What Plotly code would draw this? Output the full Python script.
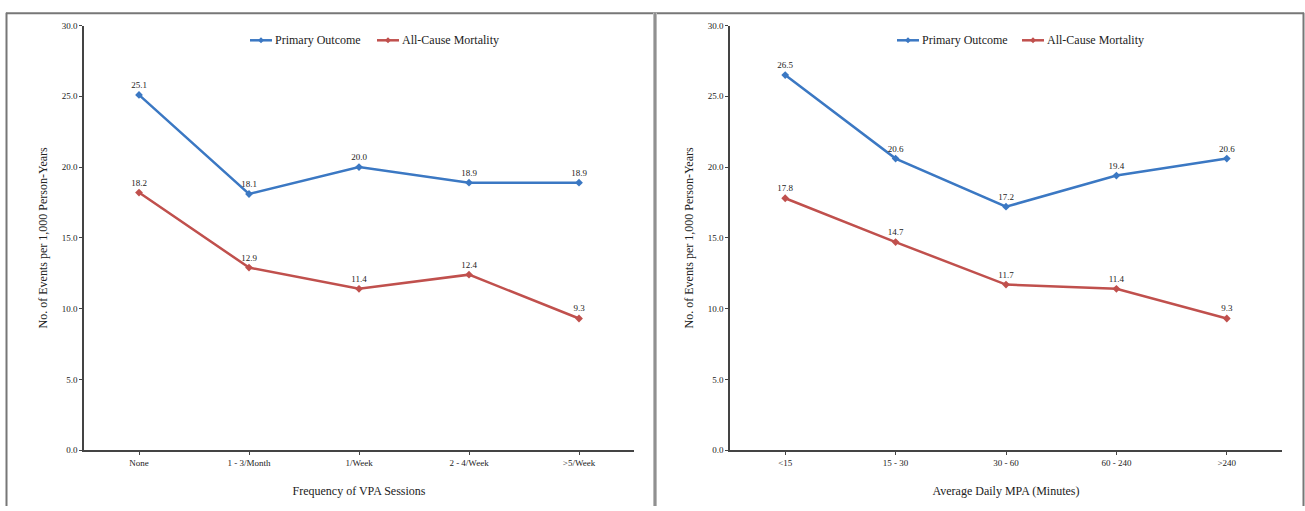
import plotly.graph_objects as go

vpa_categories = ["None", "1 - 3/Month", "1/Week", "2 - 4/Week", ">5/Week"]
vpa_primary = [25.1, 18.1, 20.0, 18.9, 18.9]
vpa_mortality = [18.2, 12.9, 11.4, 12.4, 9.3]

mpa_categories = ["<15", "15 - 30", "30 - 60", "60 - 240", ">240"]
mpa_primary = [26.5, 20.6, 17.2, 19.4, 20.6]
mpa_mortality = [17.8, 14.7, 11.7, 11.4, 9.3]

y_ticks = [0, 5, 10, 15, 20, 25, 30]

BLUE = "#3b78c3"
RED = "#c0504d"
FONT = "Liberation Serif"
W, H = 1305, 511

fig = go.Figure()

def add_series(x, y, name, color, xa, ya):
    fig.add_trace(go.Scatter(
        x=x, y=y, name=name, mode="lines+markers+text",
        line=dict(color=color, width=2.5),
        marker=dict(symbol="diamond", size=6, color=color),
        text=[f"{v:.1f}" for v in y], textposition="top center",
        textfont=dict(family=FONT, size=9, color="#222"),
        xaxis=xa, yaxis=ya, showlegend=False, cliponaxis=False,
    ))

add_series(vpa_categories, vpa_primary, "Primary Outcome", BLUE, "x", "y")
add_series(vpa_categories, vpa_mortality, "All-Cause Mortality", RED, "x", "y")
add_series(mpa_categories, mpa_primary, "Primary Outcome", BLUE, "x2", "y2")
add_series(mpa_categories, mpa_mortality, "All-Cause Mortality", RED, "x2", "y2")

y_bottom = 1 - 454 / H
y_top = 1 - 21 / H

axis_common = dict(
    showline=True, linecolor="#444", linewidth=1.5, ticks="outside",
    tickcolor="#444", ticklen=3, showgrid=False, zeroline=False,
    tickfont=dict(family=FONT, size=9, color="#222"),
)
title_font = dict(family=FONT, size=12, color="#222")

fig.update_layout(
    width=W, height=H,
    margin=dict(l=0, r=0, t=0, b=0),
    paper_bgcolor="white", plot_bgcolor="white",
    showlegend=False,
    xaxis=dict(domain=[84 / W, 634 / W], anchor="y", range=[-0.5, 4.5],
               title=dict(text="Frequency of VPA Sessions", font=title_font, standoff=20),
               **axis_common),
    yaxis=dict(domain=[y_bottom, y_top], anchor="x", range=[0, 30], tickvals=y_ticks,
               tickformat=".1f",
               title=dict(text="No. of Events per 1,000 Person-Years", font=title_font, standoff=11),
               **axis_common),
    xaxis2=dict(domain=[730 / W, 1282 / W], anchor="y2", range=[-0.5, 4.5],
                title=dict(text="Average Daily MPA (Minutes)", font=title_font, standoff=20),
                **axis_common),
    yaxis2=dict(domain=[y_bottom, y_top], anchor="x2", range=[0, 30], tickvals=y_ticks,
                tickformat=".1f",
                title=dict(text="No. of Events per 1,000 Person-Years", font=title_font, standoff=11),
                **axis_common),
)

def legend(cx, items):
    y = 1 - 36 / H
    x = cx
    for name, color, w in items:
        fig.add_shape(type="line", xref="paper", yref="paper", x0=x / W, x1=(x + 22) / W, y0=y, y1=y,
                      line=dict(color=color, width=2.5))
        fig.add_shape(type="path", xref="paper", yref="paper",
                      path=f"M {(x+11-3)/W} {y} L {(x+11)/W} {y+3/H} L {(x+11+3)/W} {y} L {(x+11)/W} {y-3/H} Z",
                      fillcolor=color, line=dict(color=color, width=0))
        fig.add_annotation(xref="paper", yref="paper", x=(x + 23) / W, y=y, text=name, showarrow=False,
                           xanchor="left", yanchor="middle", font=title_font)
        x += w

legend(250, [("Primary Outcome", BLUE, 127), ("All-Cause Mortality", RED, 0)])
legend(897, [("Primary Outcome", BLUE, 125), ("All-Cause Mortality", RED, 0)])

frame = dict(xref="paper", yref="paper")
fig.add_shape(type="line", x0=6 / W, x1=1304 / W, y0=1 - 8.5 / H, y1=1 - 8.5 / H, line=dict(color="#777", width=2), **frame)
fig.add_shape(type="line", x0=6.5 / W, x1=6.5 / W, y0=0, y1=1 - 8 / H, line=dict(color="#777", width=2), **frame)
fig.add_shape(type="line", x0=655 / W, x1=655 / W, y0=0, y1=1 - 8 / H, line=dict(color="#bbb", width=4), **frame)
fig.add_shape(type="line", x0=655 / W, x1=655 / W, y0=0, y1=1 - 8 / H, line=dict(color="#666", width=1), **frame)
fig.add_shape(type="line", x0=1303.5 / W, x1=1303.5 / W, y0=0, y1=1 - 8 / H, line=dict(color="#777", width=2), **frame)

fig.write_html("out.html", config={"displayModeBar": False},
               post_script="document.body.style.margin='0';document.body.style.overflow='hidden';")
